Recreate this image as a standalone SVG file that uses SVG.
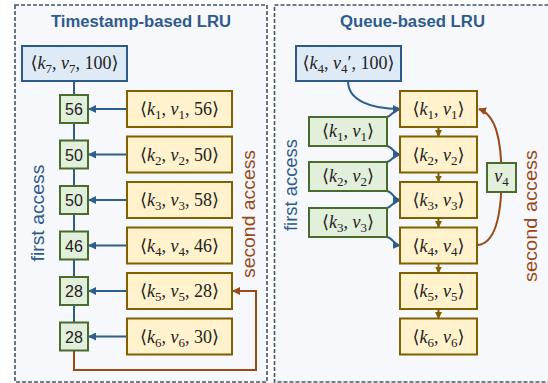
<svg xmlns="http://www.w3.org/2000/svg" width="548" height="383" viewBox="0 0 548 383">
  <style>
    .panel { fill: #f6f8fc; stroke: #44546a; stroke-width: 1.6; stroke-dasharray: 4 2; }
    .title { font-family: "Liberation Sans", Arial, sans-serif; font-weight: bold; font-size: 16px; fill: #2f5b8c; text-anchor: middle; }
    .blue { fill: #deebf7; stroke: #2e5a87; stroke-width: 2; }
    .green { fill: #e2efda; stroke: #4a6b2e; stroke-width: 2; }
    .yellow { fill: #fff2cc; stroke: #806000; stroke-width: 2; }
    .num { font-family: "Liberation Sans", Arial, sans-serif; font-size: 16px; fill: #222; text-anchor: middle; }
    .m { font-family: "Liberation Serif", "DejaVu Serif", serif; font-size: 18px; fill: #222; text-anchor: middle; }
    .i { font-style: italic; }
    .s { font-size: 13px; }
    .side { font-family: "Liberation Sans", Arial, sans-serif; font-size: 18px; text-anchor: middle; }
    .first { fill: #2f5b8c; }
    .second { fill: #9a4a17; }
    .lb { fill: none; stroke: #2e5f8a; stroke-width: 2; }
    .lo { fill: none; stroke: #9a4a17; stroke-width: 2; }
    .ly { fill: none; stroke: #806000; stroke-width: 2; }
  </style>
  <defs>
    <marker id="ab" markerWidth="8" markerHeight="8" refX="7" refY="4" orient="auto" markerUnits="userSpaceOnUse">
      <path d="M0,0 L8,4 L0,8 Z" fill="#2e5f8a"/>
    </marker>
    <marker id="ao" markerWidth="8" markerHeight="8" refX="7" refY="4" orient="auto" markerUnits="userSpaceOnUse">
      <path d="M0,0 L8,4 L0,8 Z" fill="#9a4a17"/>
    </marker>
    <marker id="ay" markerWidth="7" markerHeight="7" refX="6" refY="3.5" orient="auto" markerUnits="userSpaceOnUse">
      <path d="M0,0 L7,3.5 L0,7 Z" fill="#806000"/>
    </marker>
  </defs>

  <!-- panels -->
  <rect class="panel" x="15" y="5" width="252" height="377"/>
  <rect class="panel" x="274.5" y="5" width="280" height="377"/>
  <text class="title" x="141" y="27" textLength="180" lengthAdjust="spacingAndGlyphs">Timestamp-based LRU</text>
  <text class="title" x="412.5" y="27" textLength="145" lengthAdjust="spacingAndGlyphs">Queue-based LRU</text>

  <!-- connectors -->
  <g id="connectors">
    <!-- timestamp side: chain and insert arrows -->
    <line class="lb" x1="74" y1="81" x2="74" y2="323"/>
    <line class="lb" x1="127" y1="109" x2="89" y2="109" marker-end="url(#ab)"/>
    <line class="lb" x1="127" y1="154.5" x2="89" y2="154.5" marker-end="url(#ab)"/>
    <line class="lb" x1="127" y1="200" x2="89" y2="200" marker-end="url(#ab)"/>
    <line class="lb" x1="127" y1="245.5" x2="89" y2="245.5" marker-end="url(#ab)"/>
    <line class="lb" x1="127" y1="291" x2="89" y2="291" marker-end="url(#ab)"/>
    <line class="lb" x1="127" y1="336.5" x2="89" y2="336.5" marker-end="url(#ab)"/>
    <path class="lo" d="M74,350 V370 H256 V291 H233" marker-end="url(#ao)"/>

    <!-- queue side: new entry and first-access inserts -->
    <path class="lb" d="M348,81 C348,100 370,109 400,109" marker-end="url(#ab)"/>
    <path class="lb" d="M387,117 C392,116 393,110 400,109" marker-end="url(#ab)"/>
    <path class="lb" d="M387,146 C393,147 394,154 400,154.5" marker-end="url(#ab)"/>
    <path class="lb" d="M387,162 C392,161 393,155 400,154.5" marker-end="url(#ab)"/>
    <path class="lb" d="M387,191 C393,192 394,199.5 400,200" marker-end="url(#ab)"/>
    <path class="lb" d="M387,208 C392,207 393,201 400,200" marker-end="url(#ab)"/>
    <path class="lb" d="M387,237 C393,238 394,245 400,245.5" marker-end="url(#ab)"/>

    <!-- queue order -->
    <line class="ly" x1="438.5" y1="127" x2="438.5" y2="136" marker-end="url(#ay)"/>
    <line class="ly" x1="438.5" y1="172.5" x2="438.5" y2="181.5" marker-end="url(#ay)"/>
    <line class="ly" x1="438.5" y1="218" x2="438.5" y2="227" marker-end="url(#ay)"/>
    <line class="ly" x1="438.5" y1="263.5" x2="438.5" y2="272.5" marker-end="url(#ay)"/>
    <line class="ly" x1="438.5" y1="309" x2="438.5" y2="318" marker-end="url(#ay)"/>

    <!-- second access moves entry to the head -->
    <path class="lo" d="M478,245 C495,243 501.5,215 501.5,177 C501.5,140 496,115 479,109" marker-end="url(#ao)"/>
  </g>

  <!-- timestamp-based nodes -->
  <g id="ts-new">
    <rect class="blue" x="22" y="46" width="105" height="35"/>
    <text class="m" x="74.5" y="69">⟨<tspan class="i">k</tspan><tspan class="s" dy="4">7</tspan><tspan dy="-4">, </tspan><tspan class="i">v</tspan><tspan class="s" dy="4">7</tspan><tspan dy="-4">, 100⟩</tspan></text>
  </g>
  <g id="ts-t1"><rect class="green" x="60" y="95" width="28" height="28"/><text class="num" x="74" y="115">56</text></g>
  <g id="ts-t2"><rect class="green" x="60" y="140.5" width="28" height="28"/><text class="num" x="74" y="160.5">50</text></g>
  <g id="ts-t3"><rect class="green" x="60" y="186" width="28" height="28"/><text class="num" x="74" y="206">50</text></g>
  <g id="ts-t4"><rect class="green" x="60" y="231.5" width="28" height="28"/><text class="num" x="74" y="251.5">46</text></g>
  <g id="ts-t5"><rect class="green" x="60" y="277" width="28" height="28"/><text class="num" x="74" y="297">28</text></g>
  <g id="ts-t6"><rect class="green" x="60" y="322.5" width="28" height="28"/><text class="num" x="74" y="342.5">28</text></g>

  <g id="ts-e1"><rect class="yellow" x="127" y="91" width="105" height="36"/>
    <text class="m" x="179.5" y="115">⟨<tspan class="i">k</tspan><tspan class="s" dy="4">1</tspan><tspan dy="-4">, </tspan><tspan class="i">v</tspan><tspan class="s" dy="4">1</tspan><tspan dy="-4">, 56⟩</tspan></text></g>
  <g id="ts-e2"><rect class="yellow" x="127" y="136.5" width="105" height="36"/>
    <text class="m" x="179.5" y="160.5">⟨<tspan class="i">k</tspan><tspan class="s" dy="4">2</tspan><tspan dy="-4">, </tspan><tspan class="i">v</tspan><tspan class="s" dy="4">2</tspan><tspan dy="-4">, 50⟩</tspan></text></g>
  <g id="ts-e3"><rect class="yellow" x="127" y="182" width="105" height="36"/>
    <text class="m" x="179.5" y="206">⟨<tspan class="i">k</tspan><tspan class="s" dy="4">3</tspan><tspan dy="-4">, </tspan><tspan class="i">v</tspan><tspan class="s" dy="4">3</tspan><tspan dy="-4">, 58⟩</tspan></text></g>
  <g id="ts-e4"><rect class="yellow" x="127" y="227.5" width="105" height="36"/>
    <text class="m" x="179.5" y="251.5">⟨<tspan class="i">k</tspan><tspan class="s" dy="4">4</tspan><tspan dy="-4">, </tspan><tspan class="i">v</tspan><tspan class="s" dy="4">4</tspan><tspan dy="-4">, 46⟩</tspan></text></g>
  <g id="ts-e5"><rect class="yellow" x="127" y="273" width="105" height="36"/>
    <text class="m" x="179.5" y="297">⟨<tspan class="i">k</tspan><tspan class="s" dy="4">5</tspan><tspan dy="-4">, </tspan><tspan class="i">v</tspan><tspan class="s" dy="4">5</tspan><tspan dy="-4">, 28⟩</tspan></text></g>
  <g id="ts-e6"><rect class="yellow" x="127" y="318.5" width="105" height="36"/>
    <text class="m" x="179.5" y="342.5">⟨<tspan class="i">k</tspan><tspan class="s" dy="4">6</tspan><tspan dy="-4">, </tspan><tspan class="i">v</tspan><tspan class="s" dy="4">6</tspan><tspan dy="-4">, 30⟩</tspan></text></g>

  <text class="side first" transform="translate(44,213) rotate(-90)" textLength="97" lengthAdjust="spacingAndGlyphs">first access</text>
  <text class="side second" transform="translate(255,214) rotate(-90)" textLength="128" lengthAdjust="spacingAndGlyphs">second access</text>

  <!-- queue-based nodes -->
  <g id="q-new">
    <rect class="blue" x="296" y="46" width="105" height="35"/>
    <text class="m" x="348.5" y="69">⟨<tspan class="i">k</tspan><tspan class="s" dy="4">4</tspan><tspan dy="-4">, </tspan><tspan class="i">v</tspan><tspan class="s" dy="4">4</tspan><tspan dy="-4">′, 100⟩</tspan></text>
  </g>
  <g id="q-f1"><rect class="green" x="309" y="117" width="78" height="29"/>
    <text class="m" x="348" y="137">⟨<tspan class="i">k</tspan><tspan class="s" dy="4">1</tspan><tspan dy="-4">, </tspan><tspan class="i">v</tspan><tspan class="s" dy="4">1</tspan><tspan dy="-4">⟩</tspan></text></g>
  <g id="q-f2"><rect class="green" x="309" y="162" width="78" height="29"/>
    <text class="m" x="348" y="182">⟨<tspan class="i">k</tspan><tspan class="s" dy="4">2</tspan><tspan dy="-4">, </tspan><tspan class="i">v</tspan><tspan class="s" dy="4">2</tspan><tspan dy="-4">⟩</tspan></text></g>
  <g id="q-f3"><rect class="green" x="309" y="208" width="78" height="29"/>
    <text class="m" x="348" y="228">⟨<tspan class="i">k</tspan><tspan class="s" dy="4">3</tspan><tspan dy="-4">, </tspan><tspan class="i">v</tspan><tspan class="s" dy="4">3</tspan><tspan dy="-4">⟩</tspan></text></g>

  <g id="q-e1"><rect class="yellow" x="400" y="91" width="77" height="36"/>
    <text class="m" x="438.5" y="115">⟨<tspan class="i">k</tspan><tspan class="s" dy="4">1</tspan><tspan dy="-4">, </tspan><tspan class="i">v</tspan><tspan class="s" dy="4">1</tspan><tspan dy="-4">⟩</tspan></text></g>
  <g id="q-e2"><rect class="yellow" x="400" y="136.5" width="77" height="36"/>
    <text class="m" x="438.5" y="160.5">⟨<tspan class="i">k</tspan><tspan class="s" dy="4">2</tspan><tspan dy="-4">, </tspan><tspan class="i">v</tspan><tspan class="s" dy="4">2</tspan><tspan dy="-4">⟩</tspan></text></g>
  <g id="q-e3"><rect class="yellow" x="400" y="182" width="77" height="36"/>
    <text class="m" x="438.5" y="206">⟨<tspan class="i">k</tspan><tspan class="s" dy="4">3</tspan><tspan dy="-4">, </tspan><tspan class="i">v</tspan><tspan class="s" dy="4">3</tspan><tspan dy="-4">⟩</tspan></text></g>
  <g id="q-e4"><rect class="yellow" x="400" y="227.5" width="77" height="36"/>
    <text class="m" x="438.5" y="251.5">⟨<tspan class="i">k</tspan><tspan class="s" dy="4">4</tspan><tspan dy="-4">, </tspan><tspan class="i">v</tspan><tspan class="s" dy="4">4</tspan><tspan dy="-4">⟩</tspan></text></g>
  <g id="q-e5"><rect class="yellow" x="400" y="273" width="77" height="36"/>
    <text class="m" x="438.5" y="297">⟨<tspan class="i">k</tspan><tspan class="s" dy="4">5</tspan><tspan dy="-4">, </tspan><tspan class="i">v</tspan><tspan class="s" dy="4">5</tspan><tspan dy="-4">⟩</tspan></text></g>
  <g id="q-e6"><rect class="yellow" x="400" y="318.5" width="77" height="36"/>
    <text class="m" x="438.5" y="342.5">⟨<tspan class="i">k</tspan><tspan class="s" dy="4">6</tspan><tspan dy="-4">, </tspan><tspan class="i">v</tspan><tspan class="s" dy="4">6</tspan><tspan dy="-4">⟩</tspan></text></g>

  <g id="q-v4"><rect class="green" x="487" y="163" width="29" height="29"/>
    <text class="m" x="501.5" y="182"><tspan class="i">v</tspan><tspan class="s" dy="4">4</tspan></text></g>

  <text class="side first" transform="translate(297,185) rotate(-90)" textLength="92" lengthAdjust="spacingAndGlyphs">first access</text>
  <text class="side second" transform="translate(537,216) rotate(-90)" textLength="132" lengthAdjust="spacingAndGlyphs">second access</text>
</svg>
